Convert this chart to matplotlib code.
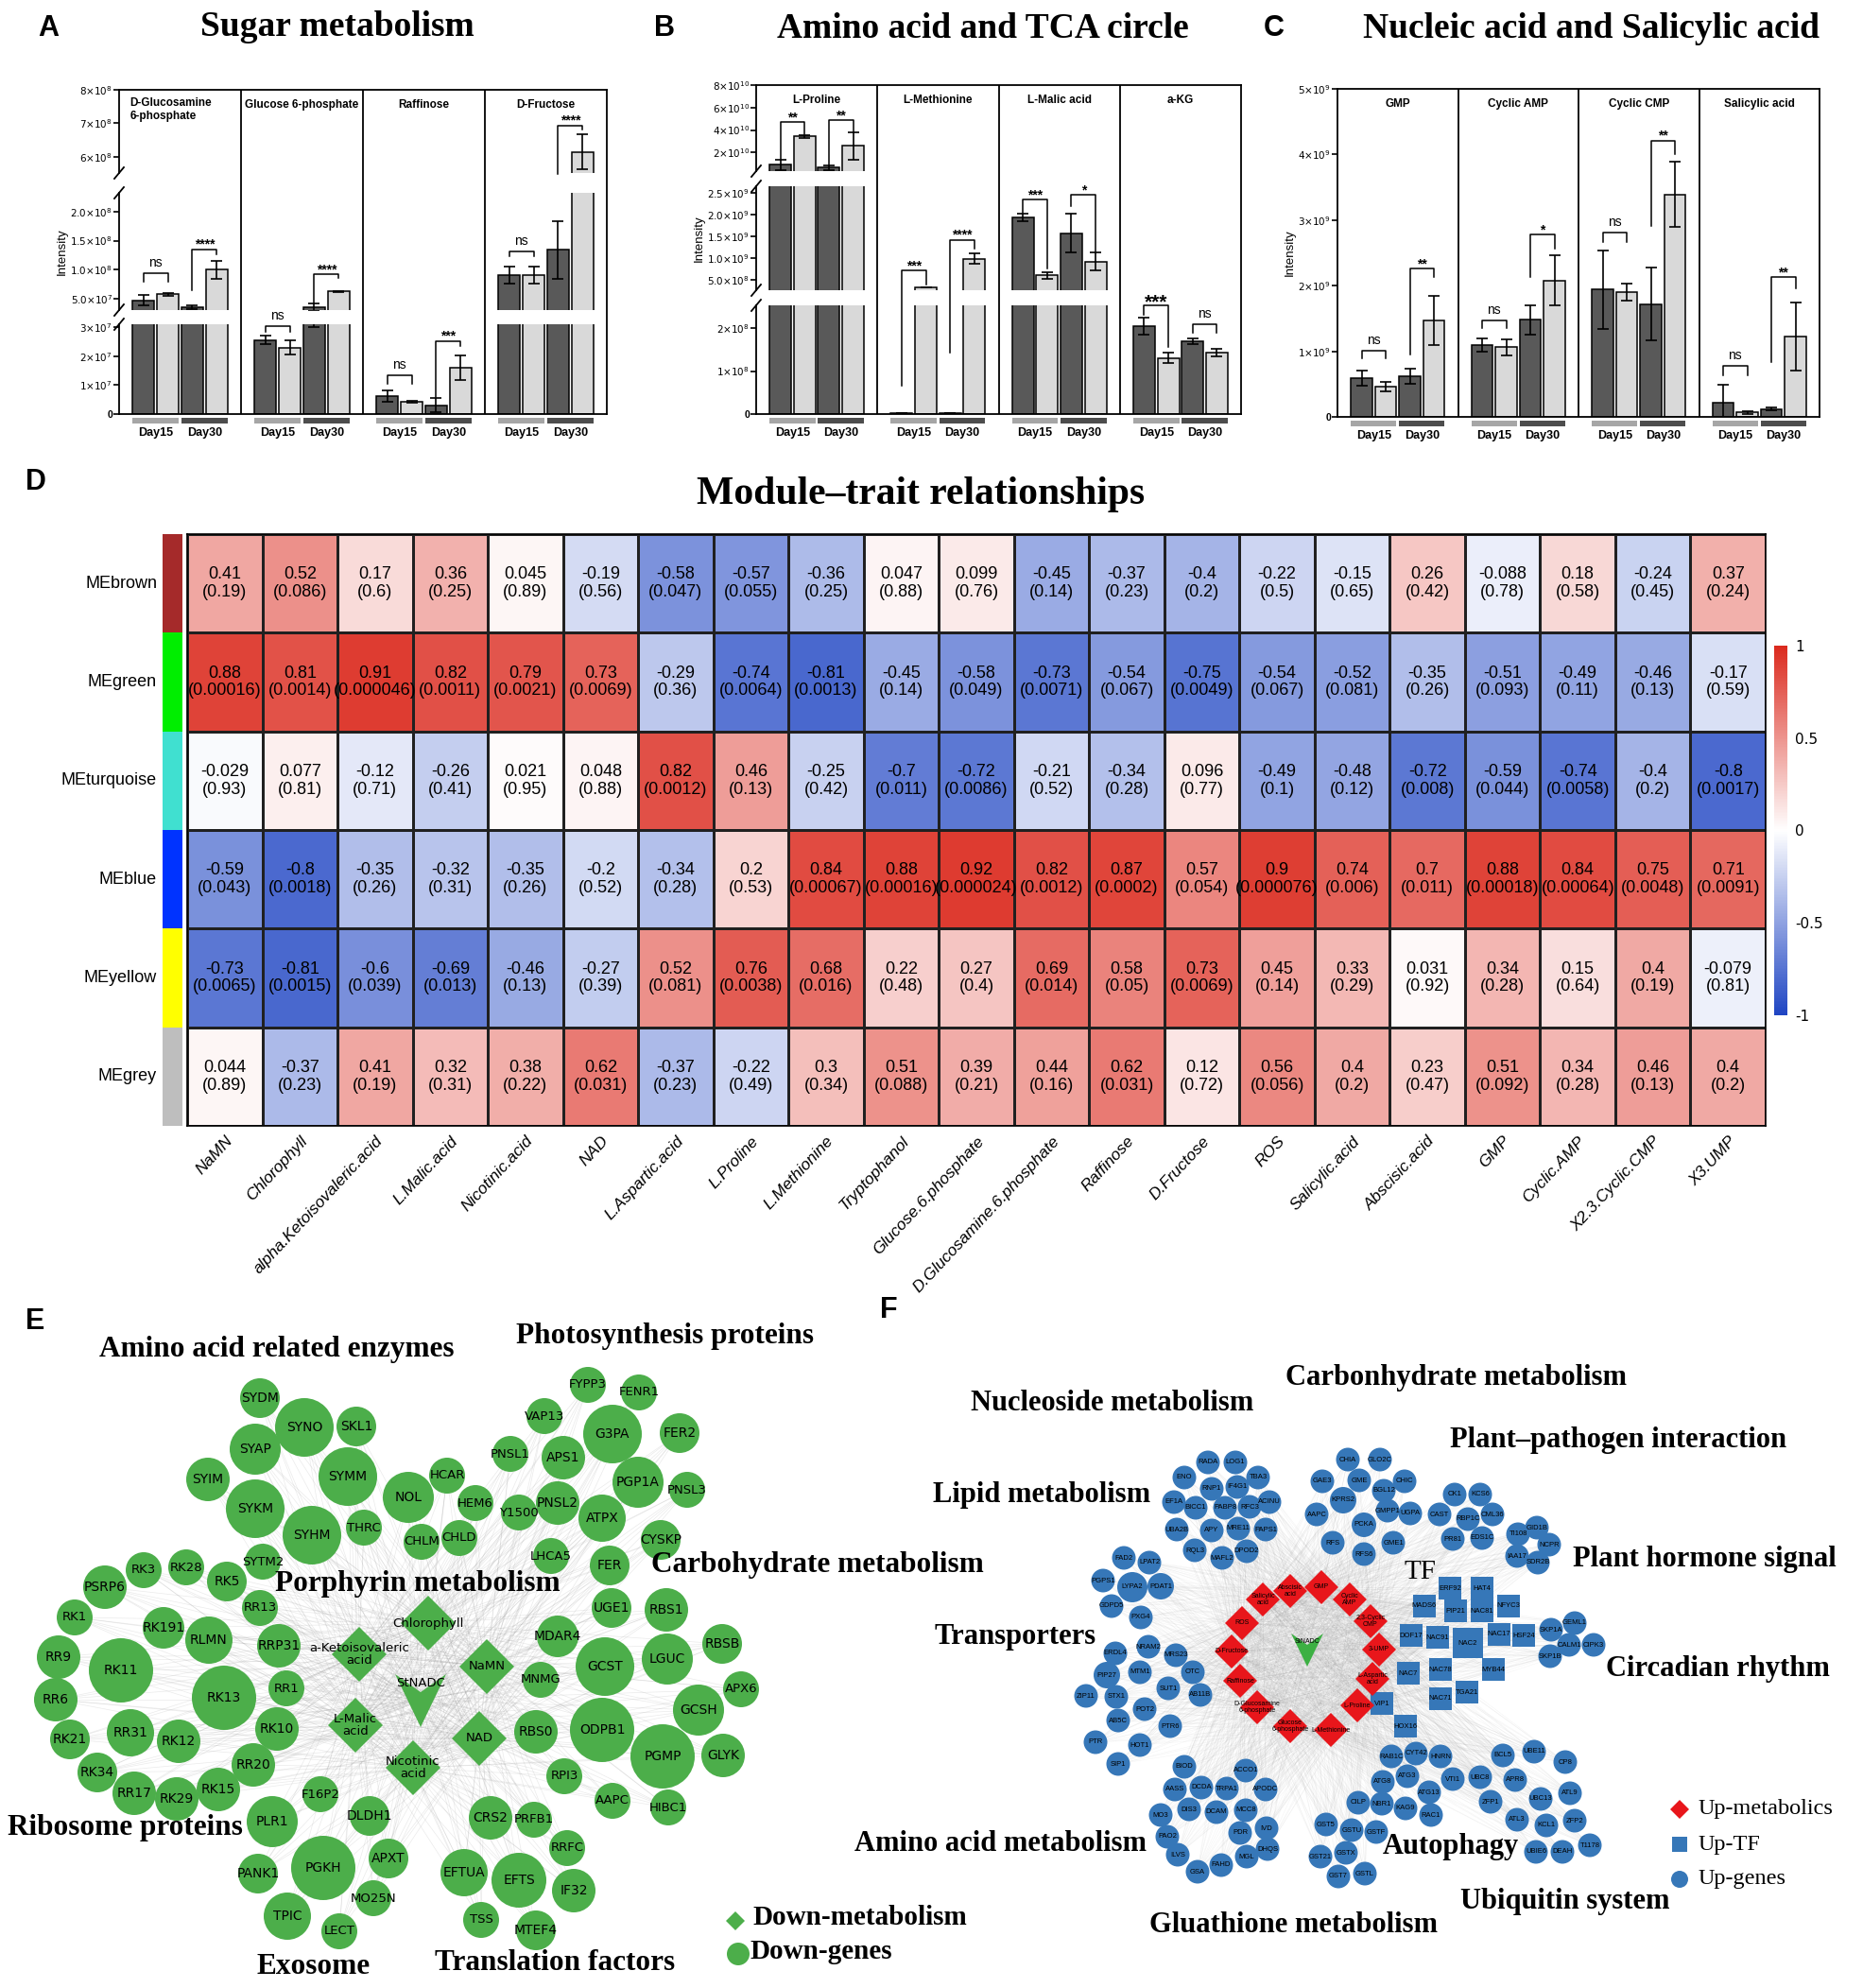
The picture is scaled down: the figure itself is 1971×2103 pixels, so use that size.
import matplotlib
matplotlib.use('Agg')
import matplotlib.pyplot as plt
import numpy as np
from matplotlib.patches import Rectangle, Circle, RegularPolygon, Polygon
from matplotlib.collections import LineCollection
from matplotlib.colors import LinearSegmentedColormap
from matplotlib.cm import ScalarMappable
from matplotlib import font_manager

# ---------------------------------------------------------------- data A-C
groups_A = ['D-Glucosamine\n6-phosphate', 'Glucose 6-phosphate', 'Raffinose', 'D-Fructose']
means_A = [[4.8e7, 5.8e7, 3.6e7, 1.0e8], [2.55e7, 2.3e7, 3.6e7, 6.3e7],
           [6.2e6, 4.3e6, 3.0e6, 1.6e7], [9.1e7, 9.1e7, 1.34e8, 6.15e8]]
errs_A = [[0.9e7, 0.2e7, 0.3e7, 1.5e7], [0.15e7, 0.25e7, 0.6e7, 0.1e7],
          [2.0e6, 0.3e6, 2.5e6, 4.2e6], [1.5e7, 1.5e7, 5.0e7, 5.2e7]]
# (label, bracket top, left leg end, right leg end) for pair Day15 and pair Day30
sig_A = [[('ns', 9.35e7, 8.0e7, 8.0e7), ('****', 1.35e8, 6.5e7, 1.27e8)],
         [('ns', 3.05e7, 2.85e7, 2.85e7), ('****', 9.2e7, 4.2e7, 8.6e7)],
         [('ns', 1.33e7, 1.03e7, 1.03e7), ('***', 2.52e7, 0.6e7, 2.34e7)],
         [('ns', 1.32e8, 1.23e8, 1.23e8), ('****', 6.93e8, 5.5e8, 6.82e8)]]

groups_B = ['L-Proline', 'L-Methionine', 'L-Malic acid', 'a-KG']
means_B = [[0.9e10, 3.44e10, 0.65e10, 2.6e10], [2e6, 3.35e8, 2e6, 9.9e8],
           [1.94e9, 6.1e8, 1.58e9, 9.3e8], [2.04e8, 1.3e8, 1.69e8, 1.43e8]]
errs_B = [[0.5e10, 0.12e10, 0.2e10, 1.2e10], [0, 0.1e8, 0, 1.2e8],
          [0.08e9, 0.7e8, 0.45e9, 2.0e8], [0.2e8, 0.12e8, 0.06e8, 0.08e8]]
sig_B = [[('**', 4.7e10, 1.4e10, 3.65e10), ('**', 4.85e10, 0.86e10, 3.8e10)],
         [('***', 7.25e8, 0.67e8, 4.0e8), ('****', 1.43e9, 1.42e8, 1.22e9)],
         [('***', 2.35e9, 2.05e9, 7.6e8), ('*', 2.46e9, 2.2e9, 1.16e9)],
         [('***', 2.52e8, 2.3e8, 1.57e8), ('ns', 2.1e8, 1.9e8, 1.9e8)]]

groups_C = ['GMP', 'Cyclic AMP', 'Cyclic CMP', 'Salicylic acid']
means_C = [[0.59e9, 0.46e9, 0.62e9, 1.47e9], [1.10e9, 1.06e9, 1.48e9, 2.08e9],
           [1.94e9, 1.90e9, 1.72e9, 3.39e9], [0.22e9, 0.07e9, 0.12e9, 1.23e9]]
errs_C = [[0.12e9, 0.07e9, 0.12e9, 0.37e9], [0.1e9, 0.12e9, 0.22e9, 0.38e9],
          [0.6e9, 0.13e9, 0.55e9, 0.5e9], [0.27e9, 0.02e9, 0.02e9, 0.52e9]]
sig_C = [[('ns', 1.01e9, 0.89e9, 0.89e9), ('**', 2.26e9, 0.95e9, 2.13e9)],
         [('ns', 1.47e9, 1.36e9, 1.36e9), ('*', 2.78e9, 2.13e9, 2.56e9)],
         [('ns', 2.81e9, 2.67e9, 2.67e9), ('**', 4.21e9, 2.91e9, 4.0e9)],
         [('ns', 0.78e9, 0.64e9, 0.64e9), ('**', 2.13e9, 0.83e9, 1.96e9)]]
days = ['Day15', 'Day30']

# ---------------------------------------------------------------- data D
traits = ['NaMN', 'Chlorophyll', 'alpha.Ketoisovaleric.acid', 'L.Malic.acid', 'Nicotinic.acid',
          'NAD', 'L.Aspartic.acid', 'L.Proline', 'L.Methionine', 'Tryptophanol',
          'Glucose.6.phosphate', 'D.Glucosamine.6.phosphate', 'Raffinose', 'D.Fructose', 'ROS',
          'Salicylic.acid', 'Abscisic.acid', 'GMP', 'Cyclic.AMP', 'X2.3.Cyclic.CMP', 'X3.UMP']
modules = ['MEbrown', 'MEgreen', 'MEturquoise', 'MEblue', 'MEyellow', 'MEgrey']
module_colors = ['#a52a2a', '#00ee00', '#40e0d0', '#0033ff', '#ffff00', '#bebebe']
corr = [
    [0.41, 0.52, 0.17, 0.36, 0.045, -0.19, -0.58, -0.57, -0.36, 0.047, 0.099, -0.45, -0.37, -0.4, -0.22, -0.15, 0.26, -0.088, 0.18, -0.24, 0.37],
    [0.88, 0.81, 0.91, 0.82, 0.79, 0.73, -0.29, -0.74, -0.81, -0.45, -0.58, -0.73, -0.54, -0.75, -0.54, -0.52, -0.35, -0.51, -0.49, -0.46, -0.17],
    [-0.029, 0.077, -0.12, -0.26, 0.021, 0.048, 0.82, 0.46, -0.25, -0.7, -0.72, -0.21, -0.34, 0.096, -0.49, -0.48, -0.72, -0.59, -0.74, -0.4, -0.8],
    [-0.59, -0.8, -0.35, -0.32, -0.35, -0.2, -0.34, 0.2, 0.84, 0.88, 0.92, 0.82, 0.87, 0.57, 0.9, 0.74, 0.7, 0.88, 0.84, 0.75, 0.71],
    [-0.73, -0.81, -0.6, -0.69, -0.46, -0.27, 0.52, 0.76, 0.68, 0.22, 0.27, 0.69, 0.58, 0.73, 0.45, 0.33, 0.031, 0.34, 0.15, 0.4, -0.079],
    [0.044, -0.37, 0.41, 0.32, 0.38, 0.62, -0.37, -0.22, 0.3, 0.51, 0.39, 0.44, 0.62, 0.12, 0.56, 0.4, 0.23, 0.51, 0.34, 0.46, 0.4]]
pvals = [
    ['0.19', '0.086', '0.6', '0.25', '0.89', '0.56', '0.047', '0.055', '0.25', '0.88', '0.76', '0.14', '0.23', '0.2', '0.5', '0.65', '0.42', '0.78', '0.58', '0.45', '0.24'],
    ['0.00016', '0.0014', '0.000046', '0.0011', '0.0021', '0.0069', '0.36', '0.0064', '0.0013', '0.14', '0.049', '0.0071', '0.067', '0.0049', '0.067', '0.081', '0.26', '0.093', '0.11', '0.13', '0.59'],
    ['0.93', '0.81', '0.71', '0.41', '0.95', '0.88', '0.0012', '0.13', '0.42', '0.011', '0.0086', '0.52', '0.28', '0.77', '0.1', '0.12', '0.008', '0.044', '0.0058', '0.2', '0.0017'],
    ['0.043', '0.0018', '0.26', '0.31', '0.26', '0.52', '0.28', '0.53', '0.00067', '0.00016', '0.000024', '0.0012', '0.0002', '0.054', '0.000076', '0.006', '0.011', '0.00018', '0.00064', '0.0048', '0.0091'],
    ['0.0065', '0.0015', '0.039', '0.013', '0.13', '0.39', '0.081', '0.0038', '0.016', '0.48', '0.4', '0.014', '0.05', '0.0069', '0.14', '0.29', '0.92', '0.28', '0.64', '0.19', '0.81'],
    ['0.89', '0.23', '0.19', '0.31', '0.22', '0.031', '0.23', '0.49', '0.34', '0.088', '0.21', '0.16', '0.031', '0.72', '0.056', '0.2', '0.47', '0.092', '0.28', '0.13', '0.2']]

# ---------------------------------------------------------------- network E (layout, pixels)
E_genes = [('SYDM', 275, 1479, 21), ('SYNO', 322, 1510, 31), ('SKL1', 377, 1509, 21),
           ('SYAP', 270, 1533, 27), ('SYIM', 220, 1565, 23), ('SYMM', 368, 1562, 31),
           ('NOL', 432, 1584, 27), ('HCAR', 473, 1561, 19), ('SYKM', 270, 1596, 31),
           ('SYHM', 330, 1624, 31), ('THRC', 385, 1616, 19), ('CHLM', 446, 1631, 19),
           ('CHLD', 486, 1627, 19), ('HEM6', 503, 1590, 19), ('SYTM2', 278, 1652, 19),
           ('RK3', 152, 1661, 19), ('RK28', 197, 1658, 19), ('PSRP6', 111, 1679, 23),
           ('RK5', 240, 1673, 21), ('RR13', 275, 1701, 19), ('RK1', 79, 1711, 19),
           ('RK191', 173, 1722, 22), ('RLMN', 221, 1735, 25), ('RRP31', 295, 1741, 23),
           ('RR9', 62, 1753, 23), ('RK11', 128, 1767, 34), ('RR6', 59, 1798, 23),
           ('RK13', 237, 1796, 34), ('RR1', 303, 1786, 19), ('RK21', 74, 1840, 21),
           ('RR31', 138, 1833, 25), ('RK12', 189, 1842, 23), ('RK10', 293, 1829, 23),
           ('RK34', 103, 1875, 21), ('RR20', 268, 1867, 23), ('RR17', 142, 1897, 23),
           ('RK29', 187, 1903, 23), ('RK15', 231, 1893, 23), ('PLR1', 288, 1927, 27),
           ('F16P2', 339, 1898, 19), ('DLDH1', 391, 1921, 21), ('APXT', 411, 1966, 21),
           ('PGKH', 342, 1976, 34), ('PANK1', 273, 1982, 21), ('MO25N', 395, 2008, 19),
           ('TPIC', 304, 2027, 25), ('LECT', 359, 2043, 19),
           ('FYPP3', 622, 1465, 19), ('FENR1', 676, 1473, 19), ('VAP13', 576, 1498, 19),
           ('G3PA', 648, 1517, 31), ('FER2', 719, 1516, 21), ('PNSL1', 540, 1538, 19),
           ('APS1', 596, 1542, 23), ('PGP1A', 675, 1568, 27), ('PNSL3', 727, 1576, 19),
           ('Y1500', 549, 1600, 19), ('PNSL2', 590, 1590, 23), ('ATPX', 637, 1606, 25),
           ('CYSKP', 699, 1629, 21), ('LHCA5', 583, 1646, 19), ('FER', 645, 1656, 21),
           ('UGE1', 647, 1701, 21), ('RBS1', 705, 1703, 23),
           ('MDAR4', 590, 1731, 22), ('GCST', 640, 1763, 31), ('LGUC', 706, 1755, 27),
           ('RBSB', 764, 1739, 21), ('MNMG', 572, 1777, 19), ('APX6', 784, 1787, 19),
           ('GCSH', 739, 1809, 27), ('RBS0', 567, 1832, 23), ('ODPB1', 637, 1830, 34),
           ('PGMP', 701, 1858, 34), ('GLYK', 765, 1857, 23), ('RPI3', 597, 1879, 19),
           ('AAPC', 648, 1905, 19), ('HIBC1', 707, 1912, 19), ('CRS2', 519, 1923, 23),
           ('PRFB1', 565, 1925, 19), ('RRFC', 600, 1955, 19), ('EFTUA', 491, 1981, 25),
           ('EFTS', 549, 1989, 29), ('IF32', 607, 2000, 23), ('TSS', 509, 2031, 19),
           ('MTEF4', 567, 2042, 21)]
E_metabolites = [('a-Ketoisovaleric\nacid', 380, 1750), ('Chlorophyll', 453, 1717),
                 ('L-Malic\nacid', 376, 1825), ('Nicotinic\nacid', 437, 1870),
                 ('NaMN', 515, 1763), ('NAD', 507, 1839)]
E_center = ('StNADC', 445, 1798)
E_titles = [('Amino acid related enzymes', 293, 1428), ('Photosynthesis proteins', 704, 1413),
            ('Porphyrin metabolism', 442, 1676), ('Carbohydrate metabolism', 865, 1656),
            ('Ribosome proteins', 132, 1933), ('Exosome', 332, 2080),
            ('Translation factors', 587, 2077)]

# ---------------------------------------------------------------- network F
F_genes = [('RADA', 1278, 1547), ('LOG1', 1307, 1547), ('ENO', 1253, 1563), ('TBA3', 1331, 1563),
           ('RNP1', 1282, 1575), ('IF4G1', 1309, 1573), ('EF1A', 1242, 1589), ('BICC1', 1265, 1595),
           ('PABP8', 1296, 1595), ('RFC3', 1322, 1594), ('ACINU', 1343, 1589), ('UBA2B', 1245, 1618),
           ('APY', 1282, 1619), ('MRE11', 1310, 1617), ('PAPS1', 1339, 1618), ('RQL3', 1264, 1640),
           ('MAFL2', 1293, 1648), ('DPOD2', 1319, 1641), ('FAD2', 1189, 1648), ('LPAT2', 1216, 1653),
           ('PGPS1', 1167, 1672), ('LYPA2', 1198, 1679), ('PDAT1', 1228, 1678), ('GDPD5', 1176, 1699),
           ('PXG4', 1207, 1711), ('CHIA', 1426, 1544), ('GAE3', 1399, 1567), ('GME', 1438, 1566),
           ('KPRS2', 1421, 1587), ('AAPC', 1393, 1602), ('PCKA', 1443, 1613), ('RFS', 1410, 1632),
           ('RFS6', 1443, 1644), ('GLO2C', 1460, 1544), ('CHIC', 1486, 1567), ('BGL12', 1464, 1577),
           ('GMPP1', 1468, 1598), ('UGPA', 1492, 1601), ('GME1', 1474, 1632), ('CK1', 1539, 1581),
           ('KCS6', 1566, 1581), ('CAST', 1523, 1602), ('RBP1C', 1553, 1607), ('CML36', 1579, 1602),
           ('PR81', 1537, 1628), ('EDS1C', 1568, 1627), ('TI108', 1606, 1623), ('GID1B', 1626, 1616),
           ('NCPR', 1639, 1634), ('IAA17', 1605, 1646), ('SDR2B', 1627, 1653), ('SKP1A', 1641, 1724),
           ('GEML1', 1666, 1717), ('CALM1', 1660, 1740), ('CIPK3', 1686, 1740), ('SKP1B', 1640, 1752),
           # transporters
           ('ERDL4', 1180, 1749), ('NRAM2', 1215, 1742), ('MRS23', 1244, 1751), ('PIP27', 1171, 1772),
           ('MTM1', 1206, 1769), ('OTC', 1262, 1769), ('ZIP11', 1149, 1794), ('STX1', 1181, 1795),
           ('SUT1', 1236, 1786), ('POT2', 1211, 1808), ('AB11B', 1270, 1793), ('AB5C', 1183, 1820),
           ('PTR6', 1238, 1826), ('PTR', 1159, 1843), ('HOT1', 1206, 1846), ('SIP1', 1183, 1866),
           # amino acid metabolism
           ('BIOD', 1253, 1869), ('ACCO1', 1318, 1873), ('AASS', 1243, 1893), ('DCDA', 1271, 1891),
           ('TRPA1', 1298, 1892), ('APODC', 1339, 1893), ('DIS3', 1258, 1914), ('DCAM', 1287, 1917),
           ('MCC8', 1318, 1915), ('MO3', 1228, 1920), ('PDR', 1312, 1939), ('PAO2', 1235, 1943),
           ('IVD', 1340, 1934), ('ILVS', 1246, 1962), ('GSA', 1267, 1980), ('FAHD', 1292, 1973),
           ('MGL', 1319, 1964), ('DHQS', 1341, 1956),
           # glutathione
           ('GST5', 1403, 1930), ('GSTU', 1430, 1936), ('GSTF', 1456, 1938), ('GSTX', 1424, 1960),
           ('GST21', 1397, 1964), ('GST7', 1416, 1985), ('GSTL', 1444, 1982),
           # autophagy
           ('RAB1C', 1472, 1858), ('CYT42', 1498, 1855), ('HNRN', 1524, 1858), ('ATG8', 1463, 1885),
           ('ATG3', 1489, 1879), ('ATG13', 1512, 1896), ('CILP', 1437, 1907), ('NBR1', 1462, 1908),
           ('KAG9', 1487, 1913), ('RAC1', 1514, 1920), ('VTI1', 1537, 1882),
           # ubiquitin
           ('BCL5', 1590, 1857), ('UBE11', 1623, 1853), ('CP8', 1656, 1864), ('UBC8', 1566, 1880),
           ('APR8', 1603, 1883), ('UBC13', 1630, 1903), ('ATL9', 1661, 1897), ('ZFP1', 1577, 1906),
           ('ATL3', 1605, 1925), ('KCL1', 1636, 1931), ('ZFP2', 1666, 1926), ('UBIE6', 1625, 1959),
           ('DEAH', 1653, 1959), ('T1178', 1682, 1952)]
F_big = {'LYPA2': 16, 'PDAT1': 14, 'KPRS2': 14, 'PCKA': 13, 'PIP27': 14}
F_tf = [('ERF92', 1534, 1680), ('HAT4', 1568, 1680), ('MADS6', 1507, 1699), ('PIP21', 1540, 1704),
        ('NAC81', 1568, 1704), ('NFYC3', 1596, 1699), ('DOF17', 1493, 1730), ('NAC91', 1521, 1732),
        ('NAC2', 1553, 1738), ('NAC17', 1586, 1729), ('HSF24', 1612, 1730), ('NAC7', 1490, 1770),
        ('NAC78', 1524, 1766), ('MYB44', 1580, 1766), ('TGA21', 1552, 1790), ('VIP1', 1462, 1802),
        ('NAC71', 1524, 1797), ('HOX16', 1487, 1826)]
F_metabolites = [('Abscisic\nacid', 1365, 1683), ('GMP', 1398, 1679), ('Salicylic\nacid', 1336, 1692),
                 ('Cyclic\nAMP', 1428, 1692), ('ROS', 1314, 1717), ('2,3-Cyclic\nCMP', 1450, 1715),
                 ('D-Fructose', 1303, 1747), ('3-UMP', 1459, 1745), ('Raffinose', 1312, 1778),
                 ('L-Aspartic\nacid', 1452, 1776), ('D-Glucosamine\n6-phosphate', 1330, 1806),
                 ('L-Proline', 1436, 1804), ('Glucose\n6-phosphate', 1365, 1826),
                 ('L-Methionine', 1408, 1830)]
F_center = ('StNADC', 1383, 1745)
F_titles = [('Carbonhydrate metabolism', 1540, 1457), ('Nucleoside metabolism', 1177, 1484),
            ('Plant\u2013pathogen interaction', 1712, 1524), ('Lipid metabolism', 1102, 1582),
            ('Plant hormone signal', 1803, 1650), ('Transporters', 1074, 1731),
            ('Circadian rhythm', 1817, 1766), ('Amino acid metabolism', 1059, 1951),
            ('Autophagy', 1535, 1953), ('Ubiquitin system', 1656, 2011),
            ('Gluathione metabolism', 1368, 2036)]

# ---------------------------------------------------------------- figure
W, H = 1971, 2103
fig = plt.figure(figsize=(W / 100, H / 100), dpi=100)
installed = {f.name for f in font_manager.fontManager.ttflist}
NARROW = 'Liberation Sans Narrow' if 'Liberation Sans Narrow' in installed else 'Liberation Sans'
SANS = 'Liberation Sans'
SERIF = 'Liberation Serif'
DARK, LIGHT = '#595959', '#d9d9d9'
GREEN, BLUE, RED = '#4cae4a', '#3677b8', '#e8161b'

ax_px = fig.add_axes([0, 0, 1, 1])
ax_px.set_xlim(0, W)
ax_px.set_ylim(H, 0)
ax_px.axis('off')


def px_axes(l, t, r, b):
    return fig.add_axes([l / W, 1 - b / H, (r - l) / W, (b - t) / H])


def to_px(ax, x, y):
    return ax_px.transData.inverted().transform(ax.transData.transform((x, y)))


def sci(v):
    m, e = f'{v:.1e}'.split('e')
    return r'$%s{\times}10^{%d}$' % (m, int(e))


def bar_panel(left, right, segs, limits, ticks, labels, groups, means, errs, sigs, title_left=False):
    axes = []
    for (top, bot), lim, tk, tl in zip(segs, limits, ticks, labels):
        ax = px_axes(left, top, right, bot)
        ax.set_facecolor('none')
        ax.set_xlim(0, 20)
        ax.set_ylim(*lim)
        for s in ['top', 'right', 'bottom']:
            ax.spines[s].set_visible(False)
        ax.spines['left'].set_linewidth(1.3)
        ax.set_xticks([])
        ax.set_yticks(tk)
        ax.set_yticklabels(tl, fontsize=7.5, fontfamily=SANS, fontweight='bold')
        ax.tick_params(axis='y', length=4, width=1.2, pad=1)
        for g in range(4):
            xs = [5 * g + 1, 5 * g + 2, 5 * g + 3, 5 * g + 4]
            ax.bar(xs, means[g], width=0.9, color=[DARK, LIGHT, DARK, LIGHT],
                   edgecolor='black', linewidth=1.1)
            ax.errorbar(xs, means[g], yerr=errs[g], fmt='none', ecolor='black',
                        elinewidth=1.2, capsize=4, capthick=1.2)
        axes.append(ax)
    # frame and separators
    axf = px_axes(left, segs[0][0], right, segs[-1][1])
    axf.set_facecolor('none')
    axf.set_xlim(0, 20)
    axf.set_ylim(0, 1)
    axf.set_xticks([])
    axf.set_yticks([])
    axf.spines['left'].set_visible(False)
    for s in ['top', 'right', 'bottom']:
        axf.spines[s].set_linewidth(1.3)
    axf.vlines([5, 10, 15], 0, 1, color='black', lw=1.3)
    # axis break marks
    for i in range(len(segs) - 1):
        for yb in (segs[i][1], segs[i + 1][0]):
            ax_px.plot([left - 5, left + 5], [yb + 6, yb - 6], color='black', lw=1.3)
    axes[len(axes) // 2].set_ylabel('Intensity', fontsize=9.5, fontfamily=SANS, labelpad=2)

    def pick(v):
        best = None
        for ax in axes:
            lo, hi = ax.get_ylim()
            d = 0 if lo <= v <= hi else min(abs(v - lo), abs(v - hi))
            if best is None or d < best[0]:
                best = (d, ax)
        return best[1]

    def P(x, v):
        return to_px(pick(v), x, v)

    bottom_ax = axes[-1]
    y0 = segs[-1][1]
    for g in range(4):
        # group title
        cx = to_px(bottom_ax, 5 * g + 2.5, 0)[0]
        if title_left and g == 0:
            x0 = to_px(bottom_ax, 5 * g + 0.45, 0)[0]
            ax_px.text(x0, segs[0][0] + 8, groups[g], ha='left', va='top', fontsize=8.5,
                       fontweight='bold', fontfamily=SANS, linespacing=1.2)
        else:
            ax_px.text(cx, segs[0][0] + 10, groups[g], ha='center', va='top', fontsize=8.5,
                       fontweight='bold', fontfamily=SANS)
        # brackets
        for k, (lab, top, le, re) in enumerate(sigs[g]):
            x1, x2 = 5 * g + 1 + 2 * k, 5 * g + 2 + 2 * k
            pts = [P(x1, le), P(x1, top), P(x2, top), P(x2, re)]
            ax_px.plot([p[0] for p in pts], [p[1] for p in pts], color='black', lw=1.1)
            mx = (pts[1][0] + pts[2][0]) / 2
            if lab == 'ns':
                ax_px.text(mx, pts[1][1] - 4, lab, ha='center', va='bottom', fontsize=10,
                           fontfamily=SANS)
            else:
                big = 15 if (lab == '***' and groups[g] == 'a-KG') else 10
                ax_px.text(mx, pts[1][1] + (2 if big == 10 else 6), lab, ha='center',
                           va='bottom', fontsize=big, fontweight='bold', fontfamily=SANS)
        # day bands
        for k in range(2):
            xa = to_px(bottom_ax, 5 * g + 0.55 + 2 * k, 0)[0]
            xb = to_px(bottom_ax, 5 * g + 2.45 + 2 * k, 0)[0]
            ax_px.add_patch(Rectangle((xa, y0 + 4), xb - xa, 6,
                                      color='#a6a6a6' if k == 0 else '#4d4d4d', lw=0))
            ax_px.text((xa + xb) / 2, y0 + 20, days[k], ha='center', va='center',
                       fontsize=9, fontweight='bold', fontfamily=SANS)
    return axes


# ---- panel A
bar_panel(126, 642, [(95, 183), (204, 328), (343, 438)],
          [(5.52e8, 8e8), (3.1e7, 2.32e8), (0, 3.1e7)],
          [[6e8, 7e8, 8e8], [5e7, 1e8, 1.5e8, 2e8], [0, 1e7, 2e7, 3e7]],
          [[r'$6{\times}10^8$', r'$7{\times}10^8$', r'$8{\times}10^8$'],
           [sci(5e7), sci(1e8), sci(1.5e8), sci(2e8)],
           ['0', r'$1{\times}10^7$', r'$2{\times}10^7$', r'$3{\times}10^7$']],
          groups_A, means_A, errs_A, sig_A, title_left=True)

# ---- panel B
bar_panel(800, 1313, [(90, 181), (197, 307), (323, 438)],
          [(3.5e9, 8e10), (2.7e8, 2.66e9), (0, 2.53e8)],
          [[2e10, 4e10, 6e10, 8e10], [5e8, 1e9, 1.5e9, 2e9, 2.5e9], [0, 1e8, 2e8]],
          [[r'$2{\times}10^{10}$', r'$4{\times}10^{10}$', r'$6{\times}10^{10}$', r'$8{\times}10^{10}$'],
           [sci(5e8), sci(1e9), sci(1.5e9), sci(2e9), sci(2.5e9)],
           ['0', r'$1{\times}10^8$', r'$2{\times}10^8$']],
          groups_B, means_B, errs_B, sig_B)

# ---- panel C
bar_panel(1415, 1925, [(94, 441)], [(0, 5e9)], [[0, 1e9, 2e9, 3e9, 4e9, 5e9]],
          [['0'] + [r'$%d{\times}10^9$' % i for i in range(1, 6)]],
          groups_C, means_C, errs_C, sig_C)

for lab, x, y in [('A', 51, 30), ('B', 703, 30), ('C', 1348, 30), ('D', 38, 510),
                  ('E', 37, 1398), ('F', 940, 1386)]:
    ax_px.text(x, y, lab, ha='center', va='center', fontsize=22, fontweight='bold',
               fontfamily=SANS)
for t, x, y, fs in [('Sugar metabolism', 357, 28, 27), ('Amino acid and TCA circle', 1040, 30, 27),
                    ('Nucleic acid and Salicylic acid', 1683, 30, 27),
                    ('Module\u2013trait relationships', 974, 523, 30)]:
    ax_px.text(x, y, t, ha='center', va='center', fontsize=fs, fontweight='bold',
               fontfamily=SERIF)

# ---------------------------------------------------------------- panel D heatmap
cmap = LinearSegmentedColormap.from_list('bwr_wgcna', ['#1f45c3', '#ffffff', '#db2a1e'])
Z = np.array(corr)
axh = px_axes(198, 565, 1868, 1191)
axh.pcolormesh(Z, cmap=cmap, vmin=-1, vmax=1, edgecolors='#202020', linewidth=0.9)
axh.set_xlim(0, Z.shape[1])
axh.set_ylim(Z.shape[0], 0)
for i in range(Z.shape[0]):
    for j in range(Z.shape[1]):
        axh.text(j + 0.5, i + 0.5, f'{corr[i][j]:g}\n({pvals[i][j]})', ha='center',
                 va='center', fontsize=13, fontfamily=NARROW, linespacing=1.15)
axh.set_yticks([])
axh.set_xticks(np.arange(Z.shape[1]) + 0.5)
axh.set_xticklabels(traits, rotation=47, ha='right', rotation_mode='anchor',
                    fontsize=12.5, fontstyle='italic', fontfamily=SANS)
axh.tick_params(axis='x', length=0, pad=6)
for s in axh.spines.values():
    s.set_linewidth(1.2)

axm = px_axes(172, 565, 193, 1191)
for i, c in enumerate(module_colors):
    axm.add_patch(Rectangle((0, i), 1, 1, color=c, lw=0))
axm.set_xlim(0, 1)
axm.set_ylim(len(modules), 0)
axm.axis('off')
for i, m in enumerate(modules):
    ax_px.text(166, 565 + (i + 0.5) * (1191 - 565) / len(modules), m, ha='right',
               va='center', fontsize=13, fontfamily=NARROW)

cax = px_axes(1877, 683, 1891, 1074)
cb = fig.colorbar(ScalarMappable(cmap=cmap, norm=plt.Normalize(-1, 1)), cax=cax)
cb.set_ticks([-1, -0.5, 0, 0.5, 1])
cb.set_ticklabels(['-1', '-0.5', '0', '0.5', '1'])
cb.ax.tick_params(labelsize=11, length=4, color='white', pad=2)
cb.outline.set_visible(False)

# ---------------------------------------------------------------- panel E network
met_E = [(x, y) for _, x, y in E_metabolites] + [(E_center[1], E_center[2])]
segs = []
for name, x, y, r in E_genes:
    for mx, my in met_E:
        segs.append([(x, y), (mx, my)])
ax_px.add_collection(LineCollection(segs, colors='#9a9a9a', linewidths=0.5, alpha=0.2, zorder=1))
for name, x, y, r in E_genes:
    ax_px.add_patch(Circle((x, y), r, color=GREEN, zorder=2, lw=0))
    ax_px.text(x, y, name, ha='center', va='center', fontsize=10 if r > 20 else 9.5,
               fontfamily='DejaVu Sans', zorder=3)
for name, x, y in E_metabolites:
    ax_px.add_patch(RegularPolygon((x, y), 4, radius=29, color=GREEN, zorder=2, lw=0))
    ax_px.text(x, y, name, ha='center', va='center', fontsize=9.5, fontfamily='DejaVu Sans',
               zorder=3, linespacing=1.05)
cx, cy = E_center[1], E_center[2]
ax_px.add_patch(Polygon([(cx - 27, cy - 27), (cx, cy - 8), (cx + 27, cy - 27), (cx, cy + 29)],
                        color=GREEN, zorder=2, lw=0))
ax_px.text(cx, cy - 18, E_center[0], ha='center', va='center', fontsize=9.5,
           fontfamily='DejaVu Sans', zorder=3)
for t, x, y in E_titles:
    ax_px.text(x, y, t, ha='center', va='center', fontsize=22.5, fontweight='bold',
               fontfamily=SERIF, zorder=4)
ax_px.add_patch(RegularPolygon((778, 2032), 4, radius=10, color=GREEN, lw=0))
ax_px.add_patch(Circle((781, 2067), 12, color=GREEN, lw=0))
ax_px.text(796, 2029, 'Down-metabolism', ha='left', va='center', fontsize=21,
           fontweight='bold', fontfamily=SERIF)
ax_px.text(793, 2065, 'Down-genes', ha='left', va='center', fontsize=21,
           fontweight='bold', fontfamily=SERIF)

# ---------------------------------------------------------------- panel F network
met_F = [(x, y) for _, x, y in F_metabolites] + [(F_center[1], F_center[2])]
segs = []
for name, x, y in F_genes + F_tf:
    for mx, my in met_F:
        segs.append([(x, y), (mx, my)])
ax_px.add_collection(LineCollection(segs, colors='#9a9a9a', linewidths=0.4, alpha=0.1, zorder=1))
for name, x, y in F_genes:
    ax_px.add_patch(Circle((x, y), F_big.get(name, 12.5), color=BLUE, zorder=2, lw=0))
    ax_px.text(x, y, name, ha='center', va='center', fontsize=5.5, fontfamily=NARROW, zorder=3)
for name, x, y in F_tf:
    s = 32 if name == 'NAC2' else 24
    ax_px.add_patch(Rectangle((x - s / 2, y - s / 2), s, s, color=BLUE, zorder=2, lw=0))
    ax_px.text(x, y, name, ha='center', va='center', fontsize=5.5, fontfamily=NARROW, zorder=3)
for name, x, y in F_metabolites:
    ax_px.add_patch(RegularPolygon((x, y), 4, radius=18, color=RED, zorder=2, lw=0))
    ax_px.text(x, y, name, ha='center', va='center', fontsize=5, fontfamily=NARROW,
               zorder=3, linespacing=0.95)
cx, cy = F_center[1], F_center[2]
ax_px.add_patch(Polygon([(cx - 17, cy - 17), (cx, cy - 5), (cx + 17, cy - 17), (cx, cy + 18)],
                        color='#3cb043', zorder=2, lw=0))
ax_px.text(cx, cy - 8, F_center[0], ha='center', va='center', fontsize=5,
           fontfamily=NARROW, zorder=3)
for t, x, y in F_titles:
    ax_px.text(x, y, t, ha='center', va='center', fontsize=22, fontweight='bold',
               fontfamily=SERIF, zorder=4)
ax_px.text(1502, 1663, 'TF', ha='center', va='center', fontsize=21, fontfamily=SERIF)
for k, (lab, shape) in enumerate([('Up-metabolics', 'd'), ('Up-TF', 's'), ('Up-genes', 'o')]):
    y = 1914 + k * 37
    col = RED if shape == 'd' else BLUE
    if shape == 'd':
        ax_px.add_patch(RegularPolygon((1777, y), 4, radius=10, color=col, lw=0))
    elif shape == 's':
        ax_px.add_patch(Rectangle((1769, y - 8), 16, 16, color=col, lw=0))
    else:
        ax_px.add_patch(Circle((1777, y), 9, color=col, lw=0))
    ax_px.text(1797, y, lab, ha='left', va='center', fontsize=17.5, fontfamily=SERIF)

fig.savefig('out.png', dpi=100)
